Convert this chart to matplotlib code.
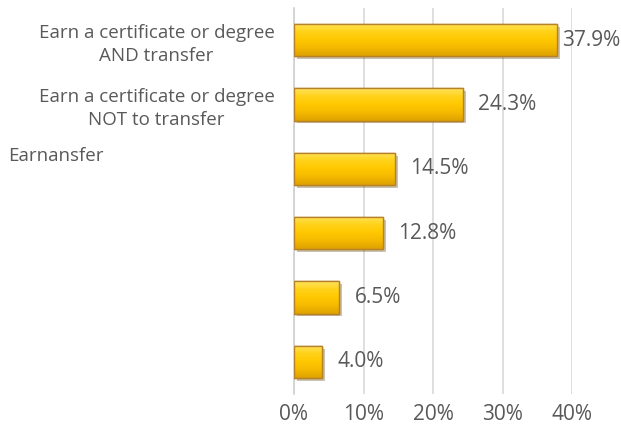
import matplotlib.pyplot as plt
import matplotlib.patheffects as pe
from matplotlib.colors import LinearSegmentedColormap
import numpy as np

# Chart data
categories = ["Earn a certificate or degree\nAND transfer",
              "Earn a certificate or degree\nNOT to transfer",
              "", "", "", ""]
third_label = "Earnansfer"
values = [37.9, 24.3, 14.5, 12.8, 6.5, 4.0]
value_labels = ["37.9%", "24.3%", "14.5%", "12.8%", "6.5%", "4.0%"]
x_ticks = [0, 10, 20, 30, 40]
x_tick_labels = ["0%", "10%", "20%", "30%", "40%"]

plt.rcParams['font.family'] = ['Open Sans', 'DejaVu Sans']
text_col = '#595959'

fig = plt.figure(figsize=(6.21, 4.34), dpi=100)
ax = fig.add_axes([294 / 621, 40 / 434, 278 / 621, 386 / 434])

y = np.arange(len(values))
bars = ax.barh(y, values, height=0.5, color='#FFC400', edgecolor='#B7812A',
               linewidth=1.0, zorder=3,
               path_effects=[pe.SimplePatchShadow(offset=(2, -2), alpha=0.3),
                             pe.Normal()])

# vertical gradient on each bar for the bevelled look
grad = np.linspace(0, 1, 64).reshape(-1, 1)
cmap = LinearSegmentedColormap.from_list(
    'gold', ['#FFE45C', '#FFD21A', '#FFC800', '#F5B800', '#DDA200'])
for b in bars:
    x0, y0 = b.get_x(), b.get_y()
    w, h = b.get_width(), b.get_height()
    im = ax.imshow(grad, cmap=cmap, aspect='auto', zorder=3.5,
                   extent=[x0, x0 + w, y0 + h, y0], interpolation='bicubic')
    im.set_clip_path(b)
    edge = plt.Rectangle((x0, y0), w, h, fill=False, edgecolor='#B7812A',
                         linewidth=1.0, zorder=4)
    ax.add_patch(edge)

# value labels
for i, (v, lab) in enumerate(zip(values, value_labels)):
    off = 3 if i == 0 else 11
    ax.annotate(lab, (v, i), xytext=(off, 0), textcoords='offset points',
                va='center', ha='left', fontsize=15, color=text_col, zorder=5)

ax.set_xlim(0, 40)
ax.set_ylim(len(values) - 0.5, -0.5)
ax.set_xticks(x_ticks)
ax.set_xticklabels(x_tick_labels, fontsize=15, color=text_col)
ax.set_yticks(y)
ax.set_yticklabels(categories, fontsize=13.5, color=text_col,
                   multialignment='center', linespacing=1.35)
ax.tick_params(axis='both', length=0)
ax.tick_params(axis='x', pad=7)
ax.tick_params(axis='y', pad=14)

ax.grid(axis='x', color='#D9D9D9', linewidth=1.2, zorder=0)
ax.set_axisbelow(True)
for s in ['top', 'right', 'bottom']:
    ax.spines[s].set_visible(False)
ax.spines['left'].set_color('#D0D0D0')
ax.spines['left'].set_linewidth(1.2)

# garbled third label, first line only
fig.text(8 / 621, 1 - 156 / 434, third_label, fontsize=13.5, color=text_col,
         ha='left', va='center')

fig.savefig('out.png', dpi=100)
